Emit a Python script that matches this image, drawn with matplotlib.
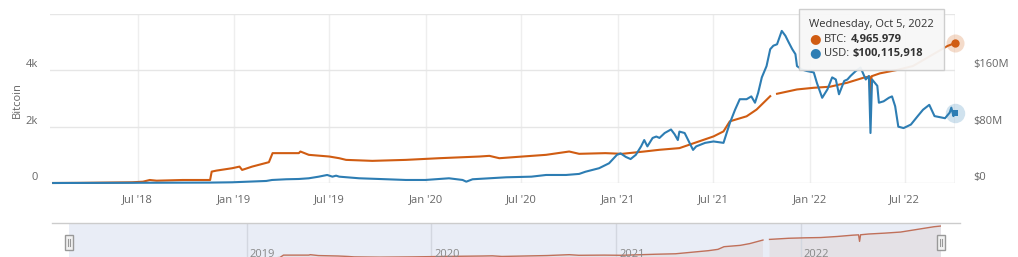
import matplotlib
matplotlib.use('Agg')
import numpy                 as np
import pandas                as pd
import matplotlib.pyplot     as plt
import matplotlib.dates      as mdates
import matplotlib.transforms as mtransforms

from   matplotlib.offsetbox import TextArea, HPacker, VPacker, AnnotationBbox
from   matplotlib.lines     import Line2D
from   matplotlib.patches   import Rectangle

plt.rcParams['font.family'] = ['Open Sans', 'DejaVu Sans']

## -- Data.
btc_dates  = ['2018-01-21', '2018-03-15', '2018-06-20', '2018-07-11', '2018-07-24', '2018-08-06',
              '2018-09-25', '2018-11-16', '2018-11-19', '2018-11-28', '2018-12-28', '2019-01-11',
              '2019-01-16', '2019-02-04', '2019-03-08', '2019-03-15', '2019-05-04', '2019-05-07',
              '2019-05-23', '2019-07-01', '2019-07-20', '2019-08-02', '2019-09-21', '2019-11-24',
              '2020-01-26', '2020-04-12', '2020-05-01', '2020-05-20', '2020-07-03', '2020-08-17',
              '2020-09-30', '2020-10-19', '2020-12-08', '2021-01-09', '2021-02-20', '2021-03-21',
              '2021-04-28', '2021-07-02', '2021-07-21', '2021-08-02', '2021-09-03', '2021-09-22',
              '2021-10-18', '2021-10-24', '2021-10-31', '2021-12-08', '2022-01-09', '2022-02-09',
              '2022-03-14', '2022-04-14', '2022-04-25', '2022-04-27', '2022-04-29', '2022-05-15',
              '2022-06-16', '2022-07-17', '2022-08-19', '2022-09-21', '2022-10-05']
btc_values = [0, 5, 25, 46, 107, 82,
              107, 107, 404, 440, 525, 582,
              464, 582, 739, 1060, 1060, 1118,
              1000, 940, 880, 821, 786, 821,
              880, 940, 964, 880, 940, 1000,
              1118, 1036, 1060, 1036, 1118, 1179,
              1238, 1654, 1832, 2189, 2368, 2607,
              3082, np.nan, 3168, 3321, 3381, 3418,
              3561, 3739, 3780, 2900, 3790, 3893,
              4011, 4154, 4511, 4868, 4965.979]

usd_dates  = ['2018-01-21', '2018-06-22', '2018-11-18', '2018-12-28', '2019-03-03', '2019-03-14',
              '2019-04-10', '2019-05-04', '2019-05-23', '2019-06-11', '2019-06-27', '2019-07-07',
              '2019-07-14', '2019-07-20', '2019-08-27', '2019-10-04', '2019-11-24', '2019-12-31',
              '2020-02-14', '2020-03-11', '2020-03-18', '2020-03-30', '2020-05-01', '2020-06-02',
              '2020-07-20', '2020-08-17', '2020-09-24', '2020-10-19', '2020-10-31', '2020-11-26',
              '2020-12-15', '2020-12-30', '2021-01-06', '2021-01-16', '2021-01-25', '2021-02-04',
              '2021-02-14', '2021-02-20', '2021-02-26', '2021-03-08', '2021-03-15', '2021-03-21',
              '2021-03-31', '2021-04-12', '2021-04-19', '2021-04-25', '2021-04-28', '2021-05-08',
              '2021-05-24', '2021-05-30', '2021-06-16', '2021-07-02', '2021-07-21', '2021-08-02',
              '2021-08-12', '2021-08-21', '2021-09-03', '2021-09-12', '2021-09-19', '2021-09-25',
              '2021-10-02', '2021-10-11', '2021-10-18', '2021-10-24', '2021-10-31', '2021-11-09',
              '2021-11-16', '2021-11-22', '2021-11-29', '2021-12-05', '2021-12-08', '2021-12-18',
              '2021-12-27', '2022-01-09', '2022-01-15', '2022-01-25', '2022-02-04', '2022-02-13',
              '2022-02-20', '2022-02-26', '2022-03-08', '2022-03-14', '2022-03-20', '2022-03-30',
              '2022-04-08', '2022-04-18', '2022-04-24', '2022-04-27', '2022-04-30', '2022-05-10',
              '2022-05-13', '2022-05-22', '2022-06-01', '2022-06-07', '2022-06-13', '2022-06-19',
              '2022-06-29', '2022-07-13', '2022-07-26', '2022-08-05', '2022-08-17', '2022-08-27',
              '2022-09-16', '2022-09-25', '2022-09-28', '2022-10-02', '2022-10-05']
# millions of USD
usd_values = [0.0, 0.3, 0.6, 1.0, 2.9, 4.3,
              5.3, 5.7, 6.7, 9.0, 11.4, 9.0,
              10.4, 9.0, 6.7, 5.7, 4.3, 4.3,
              6.7, 4.3, 1.9, 5.3, 6.7, 8.1,
              9.0, 11.4, 11.4, 12.9, 16, 21,
              28, 40, 42, 37, 34, 40,
              52, 61, 52, 64, 66, 64,
              71, 76, 69, 61, 73, 71,
              47, 52, 57, 59, 57, 85,
              104, 119, 119, 123, 114, 128,
              150, 166, 190, 195, 197, 216,
              209, 200, 190, 183, 166, 161,
              159, 157, 142, 121, 133, 150,
              147, 126, 145, 147, 152, 159,
              164, 147, 152, 71, 147, 138,
              114, 116, 121, 123, 109, 80,
              78, 83, 95, 104, 111, 95,
              92, 100, 107, 95, 100.115918]

xtick_dates  = ['2018-07-01', '2019-01-01', '2019-07-01', '2020-01-01', '2020-07-01',
                '2021-01-01', '2021-07-01', '2022-01-01', '2022-07-01']
btc_ticks    = [0, 2000, 4000, 6000]
btc_labels   = ['0', '2k', '4k', '']
usd_ticks    = [0, 80e6, 160e6, 240e6]
usd_labels   = ['$0', '$80M', '$160M', '']
nav_years    = ['2019', '2020', '2021', '2022']
tooltip_date = 'Wednesday, Oct 5, 2022'

ORANGE = '#d05c12'
BLUE   = '#2d7db3'
GREY   = '#666666'

btc = pd.Series(btc_values, index=pd.to_datetime(btc_dates))
usd = pd.Series(np.array(usd_values) * 1e6, index=pd.to_datetime(usd_dates))

W, H = 1018, 257

def box(l, t, r, b):
    return [l / W, 1 - b / H, (r - l) / W, (b - t) / H]

fig = plt.figure(figsize=(W / 100, H / 100), dpi=100)

ax  = fig.add_axes(box(50, 14, 955, 183))
ax2 = ax.twinx()

xlo, xhi = pd.Timestamp('2018-01-15'), pd.Timestamp('2022-10-05')

ax.plot(btc.index, btc.values, color=ORANGE, lw=1.5, clip_on=False)
ax2.plot(usd.index, usd.values, color=BLUE, lw=1.5, clip_on=False)

ax.set_xlim(xlo, xhi)
ax.set_ylim(0, 6000)
ax2.set_ylim(0, 240e6)

ax.set_xticks(pd.to_datetime(xtick_dates))
ax.xaxis.set_major_formatter(mdates.DateFormatter("%b '%y"))
ax.set_yticks(btc_ticks, btc_labels)
ax2.set_yticks(usd_ticks, usd_labels)

ax.grid(axis='y', color='#e6e6e6', lw=1)
ax.grid(axis='x', color='#eeeeee', lw=1)
ax.set_axisbelow(True)

for a in (ax, ax2):
    for s in a.spines.values():
        s.set_visible(False)

ax.tick_params(axis='x', length=0, pad=8, labelsize=8, labelcolor=GREY)
ax.tick_params(axis='y', length=0, pad=8.5, labelsize=8, labelcolor=GREY)
ax2.tick_params(axis='y', length=0, pad=13, labelsize=8, labelcolor=GREY)
for lbl in ax.get_yticklabels() + ax2.get_yticklabels():
    lbl.set_va('bottom')

ax.set_ylabel('Bitcoin', fontsize=8, color=GREY)
ax.yaxis.set_label_coords(-0.030, 0.49)

# hover crosshair + markers
last = btc.index[-1]
ax.axvline(last, color='#cccccc', lw=1, zorder=0)
ax.plot([last], [btc.values[-1]], 'o', ms=13, color=ORANGE, alpha=0.22, mew=0, clip_on=False)
ax.plot([last], [btc.values[-1]], 'o', ms=6, color=ORANGE, mew=0, clip_on=False)
ax2.plot([last], [usd.values[-1]], 'o', ms=14, color=BLUE, alpha=0.22, mew=0, clip_on=False)
ax2.plot([last], [usd.values[-1]], 's', ms=5, color=BLUE, mew=0, clip_on=False)

# tooltip
tp   = dict(color='#333333', size=8)
tpb  = dict(color='#333333', size=8, weight='bold')
row0 = TextArea(tooltip_date, textprops=tp)
row1 = HPacker(children=[TextArea('\u25cf', textprops=dict(color=ORANGE, size=9.5)),
                         TextArea('BTC:', textprops=tp),
                         TextArea('{:,.3f}'.format(btc_values[-1]), textprops=tpb)],
               sep=2.5, pad=0, align='baseline')
row2 = HPacker(children=[TextArea('\u25cf', textprops=dict(color=BLUE, size=9.5)),
                         TextArea('USD:', textprops=tp),
                         TextArea('${:,.0f}'.format(usd.values[-1]), textprops=tpb)],
               sep=2.5, pad=0, align='baseline')
tip  = VPacker(children=[row0, row1, row2], sep=1, pad=0, align='left')
ab   = AnnotationBbox(tip, (0.8387, 0.968), xycoords='axes fraction', box_alignment=(0, 1),
                      frameon=True,
                      bboxprops=dict(boxstyle='square,pad=0.75', fc='#f7f7f7', ec='#cccccc',
                                     lw=1, alpha=0.95))
ax2.add_artist(ab)

## -- Navigator.
axn = fig.add_axes(box(69, 223, 941, 263), facecolor='#e9edf6')
axn.plot(btc.index, btc.values, color='#c0705a', lw=1)
axn.fill_between(btc.index, btc.values, 0, color='#c8a090', alpha=0.15, lw=0)
axn.set_xlim(xlo, xhi)
axn.set_ylim(0, 5370)
axn.set_xticks(pd.to_datetime([y + '-01-01' for y in nav_years]))
axn.set_xticklabels([])
axn.set_yticks([])
axn.grid(axis='x', color='#d3d7e0', lw=1)
axn.tick_params(length=0)
for s in axn.spines.values():
    s.set_visible(False)

off = mtransforms.ScaledTranslation(3 / 100, 0, fig.dpi_scale_trans)
for y in nav_years:
    axn.text(pd.Timestamp(y + '-01-01'), 0.36, y, transform=axn.get_xaxis_transform() + off,
             fontsize=8, color='#888888', va='top', ha='left')

fig.add_artist(Line2D([52 / W, 960 / W], [1 - 223 / H] * 2, color='#cccccc', lw=1))

for cx in (69, 941):
    fig.add_artist(Rectangle(((cx - 4) / W, 1 - 250 / H), 8 / W, 15 / H, transform=fig.transFigure,
                             fc='#f2f2f2', ec='#999999', lw=1))
    for dx in (-1.2, 1.2):
        fig.add_artist(Line2D([(cx + dx) / W] * 2, [1 - 246 / H, 1 - 239 / H], color='#999999', lw=0.8))

fig.savefig('out.png', dpi=100)
